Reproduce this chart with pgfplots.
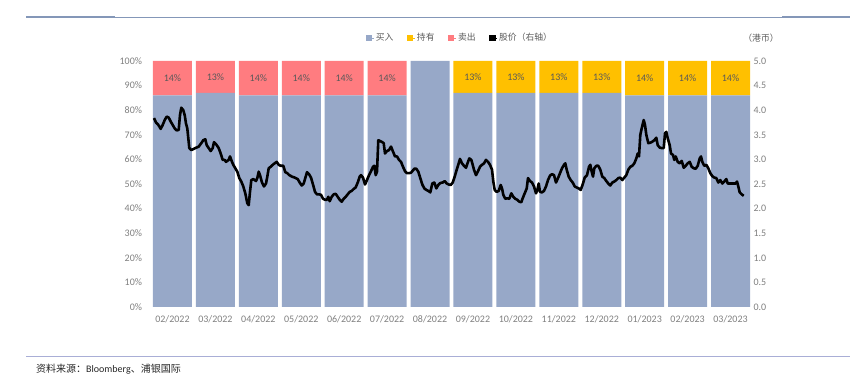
\documentclass[border=0pt]{standalone}
\usepackage{fontspec}
\setmainfont{Carlito}
\newfontfamily\cjk{Noto Sans CJK SC}
\usepackage{pgfplots}
\pgfplotsset{compat=1.18}
\definecolor{buy}{HTML}{97A8C8}
\definecolor{hold}{HTML}{FFC000}
\definecolor{sell}{HTML}{FF7C80}
\definecolor{tickc}{HTML}{7F7F7F}
\definecolor{lblc}{HTML}{595959}
\definecolor{rulec}{HTML}{8497B8}
\definecolor{rulec2}{HTML}{A9AED6}
\begin{document}
\begin{tikzpicture}[x=1pt,y=1pt]
\path[use as bounding box] (0,0) rectangle (858,377);
% header / footer rules
\draw[rulec, line width=0.8pt] (26,360) -- (850,360);
\fill[rulec] (26,359) rectangle (115,361.2);
\fill[rulec] (782,359) rectangle (850,361.2);
\draw[rulec2, line width=0.9pt] (26,20.5) -- (850,20.5);
\node[anchor=west, inner sep=0pt, text=black!85, font=\fontsize{10}{12}\selectfont] at (36,7.7) {{\cjk 资料来源：}Bloomberg{\cjk 、浦银国际}};
\node[inner sep=0pt, text=lblc, font=\cjk\fontsize{8.8}{10}\selectfont] at (761,339.3) {（港币）};

\begin{axis}[
  at={(151pt,70pt)}, anchor=south west, scale only axis,
  width=601pt, height=246pt,
  xmin=-0.5, xmax=13.5, ymin=0, ymax=100,
  ybar stacked, bar width=39pt,
  axis line style={draw=none}, major tick length=0pt,
  xtick={0,...,13},
  xticklabels={02/2022,03/2022,04/2022,05/2022,06/2022,07/2022,08/2022,09/2022,10/2022,11/2022,12/2022,01/2023,02/2023,03/2023},
  ytick={0,10,20,30,40,50,60,70,80,90,100},
  yticklabel={\pgfmathprintnumber{\tick}\%},
  /pgf/number format/assume math mode=true,
  ticklabel style={font=\fontsize{10}{12}\selectfont, text=tickc},
  yticklabel style={xshift=-5.5pt},
  xticklabel style={yshift=-5.5pt},
  ytick pos=left, xtick pos=bottom,
]
\addplot[fill=buy, draw=none] coordinates {
(0,86) (1,87) (2,86) (3,86) (4,86) (5,86) (6,100) (7,87) (8,87) (9,87) (10,87) (11,86) (12,86) (13,86)};
\addplot[fill=hold, draw=none, nodes near coords, point meta=explicit symbolic,
  every node near coord/.append style={anchor=center, font=\fontsize{10}{12}\selectfont, text=lblc}]
coordinates {
(0,0) [\relax] (1,0) [\relax] (2,0) [\relax] (3,0) [\relax] (4,0) [\relax] (5,0) [\relax] (6,0) [\relax]
(7,13) [13\%] (8,13) [13\%] (9,13) [13\%] (10,13) [13\%] (11,14) [14\%] (12,14) [14\%] (13,14) [14\%]};
\addplot[fill=sell, draw=none, nodes near coords, point meta=explicit symbolic,
  every node near coord/.append style={anchor=center, font=\fontsize{10}{12}\selectfont, text=lblc}]
coordinates {
(0,14) [14\%] (1,13) [13\%] (2,14) [14\%] (3,14) [14\%] (4,14) [14\%] (5,14) [14\%] (6,0) [\relax]
(7,0) [\relax] (8,0) [\relax] (9,0) [\relax] (10,0) [\relax] (11,0) [\relax] (12,0) [\relax] (13,0) [\relax]};
\end{axis}

\begin{axis}[
  at={(151pt,70pt)}, anchor=south west, scale only axis,
  width=601pt, height=246pt,
  xmin=0, xmax=601, ymin=0, ymax=5,
  axis x line=none, axis y line*=right,
  y axis line style={draw=none}, major tick length=0pt,
  ytick={0,0.5,1,1.5,2,2.5,3,3.5,4,4.5,5},
  /pgf/number format/assume math mode=true,
  yticklabel style={/pgf/number format/.cd, fixed, fixed zerofill, precision=1, /tikz/.cd,
    font=\fontsize{10}{12}\selectfont, text=tickc, xshift=-2pt},
  legend columns=4,
  legend image code/.code={\fill[#1] (0pt,-2.7pt) rectangle (5.4pt,2.7pt); \path (0pt,0pt) -- (7.6pt,0pt);},
  legend style={at={(0.514,1.0947)}, anchor=center, draw=none, fill=none,
    font=\cjk\fontsize{8.8}{10}\selectfont, text=lblc,
    /tikz/every even column/.append style={column sep=11.5pt}},
]
\addlegendimage{buy}
\addlegendimage{hold}
\addlegendimage{sell}
\addlegendimage{black}
\legend{买入,持有,卖出,股价（右轴）}
\addplot[black, line width=2.6pt, line join=round, forget plot] coordinates {
(3.0,3.84) (5.0,3.75) (7.0,3.71) (8.3,3.67) (9.7,3.62) (11.7,3.70) (13.7,3.80) (15.7,3.87) (17.7,3.85) (19.7,3.77)
(21.7,3.70) (23.7,3.63) (25.7,3.59) (27.7,3.60) (29.0,3.90) (30.3,4.05) (32.3,4.00) (33.7,3.90) (35.0,3.73) (36.3,3.63)
(38.3,3.23) (40.3,3.19) (44.3,3.23) (47.7,3.26) (50.3,3.33) (52.3,3.39) (54.3,3.41) (55.7,3.29) (57.7,3.23) (59.7,3.17)
(61.7,3.23) (63.0,3.35) (65.0,3.31) (67.7,3.23) (69.7,3.12) (71.7,2.99) (73.7,2.99) (75.0,2.95) (77.7,2.99) (79.0,3.06)
(81.0,2.95) (82.3,2.89) (84.3,2.82) (86.3,2.75) (88.3,2.62) (90.3,2.55) (92.3,2.45) (94.3,2.31) (96.3,2.11) (97.7,2.07)
(99.0,2.34) (100.3,2.58) (102.3,2.60) (105.0,2.56) (106.3,2.62) (107.7,2.75) (109.0,2.68) (111.0,2.53) (113.0,2.45) (115.0,2.51)
(116.3,2.65) (117.7,2.82) (119.7,2.85) (122.3,2.90) (125.7,2.95) (127.7,2.89) (129.7,2.87) (132.3,2.87) (134.3,2.74) (136.3,2.72)
(138.3,2.68) (141.0,2.65) (143.7,2.63) (146.7,2.60) (148.7,2.53) (150.7,2.47) (152.7,2.51) (154.7,2.65) (156.0,2.74) (158.0,2.70)
(160.0,2.63) (162.0,2.49) (164.0,2.34) (166.0,2.29) (168.0,2.29) (170.0,2.28) (172.0,2.20) (174.0,2.18) (176.0,2.18) (177.3,2.24)
(178.7,2.15) (180.7,2.24) (182.7,2.29) (184.7,2.30) (186.7,2.24) (188.7,2.18) (190.7,2.14) (192.7,2.20) (194.7,2.24) (196.7,2.29)
(198.7,2.34) (200.7,2.36) (202.7,2.40) (204.7,2.43) (206.7,2.53) (208.7,2.65) (210.0,2.68) (212.0,2.63) (214.0,2.49) (216.0,2.58)
(218.0,2.68) (220.0,2.76) (222.0,2.85) (223.3,2.87) (224.7,2.68) (226.0,2.75) (227.3,3.39) (229.3,3.37) (231.3,3.35) (232.7,3.33)
(234.0,3.12) (236.0,3.17) (238.0,3.19) (240.0,3.26) (242.0,3.16) (244.0,3.06) (246.0,3.06) (248.0,2.99) (250.0,2.95) (252.0,2.85)
(254.0,2.76) (256.0,2.72) (258.0,2.72) (260.0,2.73) (261.3,2.76) (263.3,2.81) (265.3,2.81) (267.3,2.75) (269.3,2.62) (271.3,2.49)
(273.3,2.41) (275.3,2.38) (277.3,2.36) (279.3,2.33) (281.3,2.51) (283.3,2.53) (285.3,2.41) (287.3,2.48) (289.3,2.52) (291.7,2.53)
(293.7,2.56) (295.7,2.51) (297.7,2.49) (299.7,2.48) (301.7,2.53) (303.7,2.65) (305.7,2.79) (307.7,2.92) (309.0,3.01) (311.0,2.92)
(313.0,2.87) (315.0,2.83) (317.0,2.95) (318.3,3.02) (320.3,2.99) (321.7,2.89) (323.0,2.79) (325.0,2.68) (327.0,2.76) (329.0,2.85)
(331.0,2.89) (333.0,2.92) (335.0,2.99) (337.0,2.95) (339.0,2.89) (341.0,2.79) (342.3,2.55) (343.7,2.38) (345.7,2.34) (347.7,2.36)
(349.7,2.48) (351.0,2.41) (352.3,2.28) (354.3,2.20) (356.3,2.21) (358.3,2.20) (360.3,2.31) (362.3,2.24) (364.3,2.20) (366.3,2.18)
(368.3,2.14) (370.3,2.13) (371.7,2.21) (373.7,2.31) (375.7,2.41) (377.0,2.62) (379.0,2.56) (381.0,2.53) (383.0,2.45) (385.0,2.31)
(386.3,2.38) (387.7,2.51) (389.0,2.34) (391.0,2.33) (393.0,2.36) (395.0,2.45) (397.0,2.58) (399.0,2.67) (401.0,2.70) (403.0,2.68)
(405.0,2.53) (407.0,2.62) (409.0,2.72) (411.0,2.82) (413.0,2.89) (414.3,2.92) (415.7,2.79) (417.7,2.65) (419.7,2.58) (421.7,2.53)
(423.7,2.45) (425.7,2.43) (427.7,2.41) (429.7,2.38) (431.7,2.49) (433.7,2.63) (436.0,2.68) (438.0,2.85) (439.3,2.89) (440.7,2.75)
(442.0,2.65) (443.3,2.82) (445.3,2.87) (447.3,2.87) (449.3,2.79) (451.3,2.65) (453.3,2.62) (455.3,2.56) (457.3,2.51) (459.3,2.47)
(461.3,2.53) (463.3,2.55) (465.3,2.58) (467.3,2.62) (469.3,2.63) (471.3,2.58) (473.3,2.63) (475.3,2.68) (477.3,2.79) (479.3,2.85)
(481.3,2.87) (483.3,2.92) (485.3,3.02) (486.7,3.12) (488.0,3.06) (489.3,3.50) (490.7,3.63) (492.7,3.80) (494.0,3.70) (495.3,3.50)
(497.3,3.33) (499.3,3.34) (501.3,3.36) (503.3,3.39) (505.3,3.44) (506.7,3.29) (508.7,3.24) (510.7,3.23) (512.7,3.23) (514.0,3.53)
(515.3,3.56) (516.7,3.43) (518.7,3.29) (520.0,3.12) (522.0,3.09) (523.3,2.99) (524.7,3.06) (526.7,2.95) (528.7,2.92) (530.7,2.97)
(532.7,2.83) (534.7,2.87) (536.7,2.92) (538.7,2.95) (540.7,2.85) (542.7,2.82) (544.7,2.81) (546.7,2.87) (548.7,3.02) (550.0,3.06)
(551.3,2.95) (553.3,2.87) (555.3,2.89) (557.3,2.82) (559.3,2.72) (561.3,2.66) (563.3,2.63) (565.3,2.62) (567.3,2.53) (569.3,2.58)
(571.3,2.51) (573.3,2.55) (575.3,2.60) (576.7,2.51) (578.7,2.51) (580.7,2.51) (582.7,2.51) (584.7,2.51) (586.0,2.55) (587.3,2.45)
(588.7,2.33) (590.7,2.29) (592.7,2.26)};
\end{axis}
\end{tikzpicture}
\end{document}
